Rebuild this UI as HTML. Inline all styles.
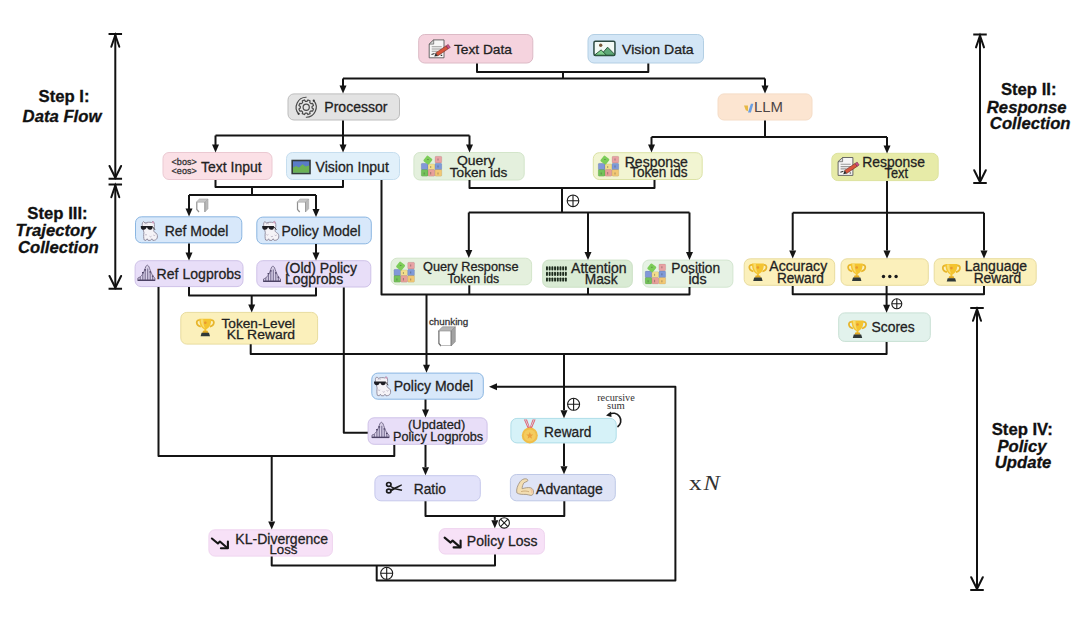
<!DOCTYPE html>
<html><head><meta charset="utf-8"><title>Training pipeline diagram</title>
<style>
html,body{margin:0;padding:0;background:#fff;}
body{width:1080px;height:618px;overflow:hidden;font-family:"Liberation Sans", sans-serif;}
svg{display:block;}
</style></head><body>
<svg width="1080" height="618" viewBox="0 0 1080 618">
<rect width="1080" height="618" fill="#ffffff"/>
<rect x="418.7" y="34.5" width="114.1" height="28.5" rx="6" fill="#f5d3de" stroke="#dcbac6" stroke-width="1"/>
<rect x="588.0" y="34.5" width="115.5" height="28.5" rx="6" fill="#d3e6f6" stroke="#b3cfe4" stroke-width="1"/>
<rect x="288.0" y="93.9" width="111.5" height="26.1" rx="6" fill="#e3e3e3" stroke="#bdbdbd" stroke-width="1"/>
<rect x="718.0" y="93.9" width="94.0" height="26.1" rx="6" fill="#fce5d1" stroke="#f5dcc6" stroke-width="1"/>
<rect x="163.0" y="152.5" width="109.0" height="27.0" rx="6" fill="#fbe0e6" stroke="#ebc9d2" stroke-width="1"/>
<rect x="286.5" y="152.5" width="113.0" height="27.0" rx="6" fill="#e1f0fa" stroke="#c6deef" stroke-width="1"/>
<rect x="413.9" y="152.5" width="110.3" height="27.5" rx="6" fill="#e4f0dd" stroke="#d3e5ca" stroke-width="1"/>
<rect x="593.3" y="152.7" width="108.9" height="26.8" rx="6" fill="#f2f5d2" stroke="#dbe2a6" stroke-width="1"/>
<rect x="831.8" y="153.3" width="106.4" height="27.3" rx="6" fill="#e7eba8" stroke="#dde39e" stroke-width="1"/>
<rect x="135.5" y="216.8" width="106.3" height="26.0" rx="6" fill="#d8e8fa" stroke="#8ab6e2" stroke-width="1"/>
<rect x="256.8" y="217.1" width="114.5" height="26.7" rx="6" fill="#d8e8fa" stroke="#8ab6e2" stroke-width="1"/>
<rect x="135.1" y="260.7" width="107.9" height="25.9" rx="6" fill="#e8def8" stroke="#cfc2e8" stroke-width="1"/>
<rect x="256.8" y="260.7" width="114.0" height="26.3" rx="6" fill="#e8def8" stroke="#cfc2e8" stroke-width="1"/>
<rect x="391.0" y="258.2" width="140.6" height="26.6" rx="6" fill="#e4f0dd" stroke="#d3e5ca" stroke-width="1"/>
<rect x="542.7" y="260.1" width="89.6" height="27.1" rx="6" fill="#d9ebd4" stroke="#cbe0c4" stroke-width="1"/>
<rect x="642.8" y="260.1" width="90.1" height="27.1" rx="6" fill="#e6f2e4" stroke="#d3e6d0" stroke-width="1"/>
<rect x="744.2" y="258.8" width="90.5" height="26.5" rx="6" fill="#fbf0bb" stroke="#e8dc9e" stroke-width="1"/>
<rect x="841.0" y="258.8" width="87.3" height="26.5" rx="6" fill="#fbf0bb" stroke="#e8dc9e" stroke-width="1"/>
<rect x="934.2" y="258.7" width="102.0" height="26.6" rx="6" fill="#fbf0bb" stroke="#e8dc9e" stroke-width="1"/>
<rect x="180.8" y="312.4" width="136.8" height="31.7" rx="6" fill="#fbf0bb" stroke="#e8dc9e" stroke-width="1"/>
<rect x="838.7" y="312.9" width="91.6" height="28.5" rx="6" fill="#e2f2ec" stroke="#c8e0d4" stroke-width="1"/>
<rect x="371.8" y="373.1" width="111.5" height="26.1" rx="6" fill="#d8e8fa" stroke="#8ab6e2" stroke-width="1"/>
<rect x="368.1" y="417.8" width="119.0" height="26.5" rx="6" fill="#e8def8" stroke="#cfc2e8" stroke-width="1"/>
<rect x="510.9" y="418.4" width="105.3" height="24.5" rx="6" fill="#d6f2f8" stroke="#aedde8" stroke-width="1"/>
<rect x="374.9" y="475.7" width="105.4" height="25.1" rx="6" fill="#e2e2fa" stroke="#c6c8ec" stroke-width="1"/>
<rect x="510.4" y="474.5" width="104.9" height="26.3" rx="6" fill="#dfe4f6" stroke="#bec8e6" stroke-width="1"/>
<rect x="208.9" y="529.8" width="123.5" height="26.3" rx="6" fill="#f7e1f7" stroke="#efd4ef" stroke-width="1"/>
<rect x="439.1" y="528.6" width="105.3" height="25.4" rx="6" fill="#f7e1f7" stroke="#efd4ef" stroke-width="1"/>
<path d="M477,63.5 V72 H648.3 V63.5" fill="none" stroke="#141414" stroke-width="2.0" stroke-linejoin="round" stroke-linecap="butt"/>
<path d="M563,72 V78.5" fill="none" stroke="#141414" stroke-width="2.0" stroke-linejoin="round" stroke-linecap="butt"/>
<path d="M343,78.5 H765" fill="none" stroke="#141414" stroke-width="2.0" stroke-linejoin="round" stroke-linecap="butt"/>
<path d="M343,78.5 V86" fill="none" stroke="#141414" stroke-width="2.0" stroke-linejoin="round" stroke-linecap="butt"/>
<path d="M339.5,85.5 L346.5,85.5 L343.0,93.5 Z" fill="#141414"/>
<path d="M765,78.5 V86" fill="none" stroke="#141414" stroke-width="2.0" stroke-linejoin="round" stroke-linecap="butt"/>
<path d="M761.5,85.5 L768.5,85.5 L765.0,93.5 Z" fill="#141414"/>
<path d="M343,120.5 V135.5" fill="none" stroke="#141414" stroke-width="2.0" stroke-linejoin="round" stroke-linecap="butt"/>
<path d="M215.5,135.5 H469.5" fill="none" stroke="#141414" stroke-width="2.0" stroke-linejoin="round" stroke-linecap="butt"/>
<path d="M215.5,135.5 V145" fill="none" stroke="#141414" stroke-width="2.0" stroke-linejoin="round" stroke-linecap="butt"/>
<path d="M212.0,144.5 L219.0,144.5 L215.5,152.5 Z" fill="#141414"/>
<path d="M343,135.5 V145" fill="none" stroke="#141414" stroke-width="2.0" stroke-linejoin="round" stroke-linecap="butt"/>
<path d="M339.5,144.5 L346.5,144.5 L343.0,152.5 Z" fill="#141414"/>
<path d="M469.5,135.5 V145" fill="none" stroke="#141414" stroke-width="2.0" stroke-linejoin="round" stroke-linecap="butt"/>
<path d="M466.0,144.5 L473.0,144.5 L469.5,152.5 Z" fill="#141414"/>
<path d="M765,120.5 V137" fill="none" stroke="#141414" stroke-width="2.0" stroke-linejoin="round" stroke-linecap="butt"/>
<path d="M651.5,137 H887" fill="none" stroke="#141414" stroke-width="2.0" stroke-linejoin="round" stroke-linecap="butt"/>
<path d="M651.5,137 V145" fill="none" stroke="#141414" stroke-width="2.0" stroke-linejoin="round" stroke-linecap="butt"/>
<path d="M648.0,144.5 L655.0,144.5 L651.5,152.5 Z" fill="#141414"/>
<path d="M887,137 V146" fill="none" stroke="#141414" stroke-width="2.0" stroke-linejoin="round" stroke-linecap="butt"/>
<path d="M883.5,145.5 L890.5,145.5 L887.0,153.5 Z" fill="#141414"/>
<path d="M215.5,180 V187 H343 V180" fill="none" stroke="#141414" stroke-width="2.0" stroke-linejoin="round" stroke-linecap="butt"/>
<path d="M252,187 V195" fill="none" stroke="#141414" stroke-width="2.0" stroke-linejoin="round" stroke-linecap="butt"/>
<path d="M189,195 H316" fill="none" stroke="#141414" stroke-width="2.0" stroke-linejoin="round" stroke-linecap="butt"/>
<path d="M189,195 V209" fill="none" stroke="#141414" stroke-width="2.0" stroke-linejoin="round" stroke-linecap="butt"/>
<path d="M185.5,208.5 L192.5,208.5 L189.0,216.5 Z" fill="#141414"/>
<path d="M316,195 V209" fill="none" stroke="#141414" stroke-width="2.0" stroke-linejoin="round" stroke-linecap="butt"/>
<path d="M312.5,209.0 L319.5,209.0 L316.0,217.0 Z" fill="#141414"/>
<path d="M189,243.5 V253" fill="none" stroke="#141414" stroke-width="2.0" stroke-linejoin="round" stroke-linecap="butt"/>
<path d="M185.5,252.5 L192.5,252.5 L189.0,260.5 Z" fill="#141414"/>
<path d="M316,244 V253" fill="none" stroke="#141414" stroke-width="2.0" stroke-linejoin="round" stroke-linecap="butt"/>
<path d="M312.5,252.5 L319.5,252.5 L316.0,260.5 Z" fill="#141414"/>
<path d="M189,287 V295.5 H316 V287.5" fill="none" stroke="#141414" stroke-width="2.0" stroke-linejoin="round" stroke-linecap="butt"/>
<path d="M251.7,295.5 V305" fill="none" stroke="#141414" stroke-width="2.0" stroke-linejoin="round" stroke-linecap="butt"/>
<path d="M248.2,304.5 L255.2,304.5 L251.7,312.5 Z" fill="#141414"/>
<path d="M158.5,287 V456 H394.3 V445" fill="none" stroke="#141414" stroke-width="2.0" stroke-linejoin="round" stroke-linecap="butt"/>
<path d="M271.7,456 V521" fill="none" stroke="#141414" stroke-width="2.0" stroke-linejoin="round" stroke-linecap="butt"/>
<path d="M268.2,521.5 L275.2,521.5 L271.7,529.5 Z" fill="#141414"/>
<path d="M343.8,287.5 V432.7 H367.7" fill="none" stroke="#141414" stroke-width="2.0" stroke-linejoin="round" stroke-linecap="butt"/>
<path d="M381.5,180 V294.6 H689.5 V287" fill="none" stroke="#141414" stroke-width="2.0" stroke-linejoin="round" stroke-linecap="butt"/>
<path d="M469.3,294.6 V285.3" fill="none" stroke="#141414" stroke-width="2.0" stroke-linejoin="round" stroke-linecap="butt"/>
<path d="M588,294.6 V287.7" fill="none" stroke="#141414" stroke-width="2.0" stroke-linejoin="round" stroke-linecap="butt"/>
<path d="M426.5,294.6 V365" fill="none" stroke="#141414" stroke-width="2.0" stroke-linejoin="round" stroke-linecap="butt"/>
<path d="M423.0,364.8 L430.0,364.8 L426.5,372.8 Z" fill="#141414"/>
<path d="M469.5,180 V188 H654.5 V180" fill="none" stroke="#141414" stroke-width="2.0" stroke-linejoin="round" stroke-linecap="butt"/>
<path d="M562,188 V212.5" fill="none" stroke="#141414" stroke-width="2.0" stroke-linejoin="round" stroke-linecap="butt"/>
<path d="M468.8,212.5 H689.5" fill="none" stroke="#141414" stroke-width="2.0" stroke-linejoin="round" stroke-linecap="butt"/>
<path d="M468.8,212.5 V250" fill="none" stroke="#141414" stroke-width="2.0" stroke-linejoin="round" stroke-linecap="butt"/>
<path d="M465.3,250.0 L472.3,250.0 L468.8,258.0 Z" fill="#141414"/>
<path d="M588,212.5 V252" fill="none" stroke="#141414" stroke-width="2.0" stroke-linejoin="round" stroke-linecap="butt"/>
<path d="M584.5,252.0 L591.5,252.0 L588.0,260.0 Z" fill="#141414"/>
<path d="M689.5,212.5 V252" fill="none" stroke="#141414" stroke-width="2.0" stroke-linejoin="round" stroke-linecap="butt"/>
<path d="M686.0,252.0 L693.0,252.0 L689.5,260.0 Z" fill="#141414"/>
<path d="M887,181 V212.7" fill="none" stroke="#141414" stroke-width="2.0" stroke-linejoin="round" stroke-linecap="butt"/>
<path d="M792.7,212.7 H984" fill="none" stroke="#141414" stroke-width="2.0" stroke-linejoin="round" stroke-linecap="butt"/>
<path d="M792.7,212.7 V250.5" fill="none" stroke="#141414" stroke-width="2.0" stroke-linejoin="round" stroke-linecap="butt"/>
<path d="M789.2,250.5 L796.2,250.5 L792.7,258.5 Z" fill="#141414"/>
<path d="M887,212.7 V250.5" fill="none" stroke="#141414" stroke-width="2.0" stroke-linejoin="round" stroke-linecap="butt"/>
<path d="M883.5,250.5 L890.5,250.5 L887.0,258.5 Z" fill="#141414"/>
<path d="M984,212.7 V250.5" fill="none" stroke="#141414" stroke-width="2.0" stroke-linejoin="round" stroke-linecap="butt"/>
<path d="M980.5,250.5 L987.5,250.5 L984.0,258.5 Z" fill="#141414"/>
<path d="M792.7,286 V294.3 H984 V286" fill="none" stroke="#141414" stroke-width="2.0" stroke-linejoin="round" stroke-linecap="butt"/>
<path d="M886.6,286 V305" fill="none" stroke="#141414" stroke-width="2.0" stroke-linejoin="round" stroke-linecap="butt"/>
<path d="M883.1,304.8 L890.1,304.8 L886.6,312.8 Z" fill="#141414"/>
<path d="M250.7,344.3 V354 H886.6 V342" fill="none" stroke="#141414" stroke-width="2.0" stroke-linejoin="round" stroke-linecap="butt"/>
<path d="M564,354 V410" fill="none" stroke="#141414" stroke-width="2.0" stroke-linejoin="round" stroke-linecap="butt"/>
<path d="M560.5,410.2 L567.5,410.2 L564.0,418.2 Z" fill="#141414"/>
<path d="M497,386.8 H675.4 V580.4 H376.7 V565.6" fill="none" stroke="#141414" stroke-width="2" stroke-linejoin="round"/>
<path d="M497.0,383.3 L497.0,390.3 L489.0,386.8 Z" fill="#141414"/>
<path d="M425.5,399.5 V410" fill="none" stroke="#141414" stroke-width="2.0" stroke-linejoin="round" stroke-linecap="butt"/>
<path d="M422.0,409.5 L429.0,409.5 L425.5,417.5 Z" fill="#141414"/>
<path d="M425.5,445 V467" fill="none" stroke="#141414" stroke-width="2.0" stroke-linejoin="round" stroke-linecap="butt"/>
<path d="M422.0,467.2 L429.0,467.2 L425.5,475.2 Z" fill="#141414"/>
<path d="M564,443.5 V466" fill="none" stroke="#141414" stroke-width="2.0" stroke-linejoin="round" stroke-linecap="butt"/>
<path d="M560.5,466.2 L567.5,466.2 L564.0,474.2 Z" fill="#141414"/>
<path d="M425.5,501.3 V516 H564.3 V501.3" fill="none" stroke="#141414" stroke-width="2.0" stroke-linejoin="round" stroke-linecap="butt"/>
<path d="M494.8,516 V520.5" fill="none" stroke="#141414" stroke-width="2.0" stroke-linejoin="round" stroke-linecap="butt"/>
<path d="M491.3,520.3 L498.3,520.3 L494.8,528.3 Z" fill="#141414"/>
<path d="M271.7,556.6 V565.6 H495 V554.5" fill="none" stroke="#141414" stroke-width="2.0" stroke-linejoin="round" stroke-linecap="butt"/>
<g transform="translate(428.7,39.4)"><path d="M0.5,4.7 L5,0.5 H15.3 V18.4 H0.5 Z" fill="#f6f6f6" stroke="#5a5a5a" stroke-width="0.9" stroke-linejoin="round"/><path d="M0.5,4.7 H5 V0.5 Z" fill="#d8d8d8" stroke="#5a5a5a" stroke-width="0.7"/><path d="M3,7.3 H13 M3,9.6 H13 M3,11.9 H9" stroke="#9a9a9a" stroke-width="1.1"/><path d="M2.8,15.2 L5.8,14.2 M12,16 H13.5" stroke="#333" stroke-width="1.1"/><path d="M9.0,16.5 L19.5,9.4 L17.5,6.4 L7.0,13.5 Z" fill="#d8553c" stroke="#6a2a20" stroke-width="0.6"/><path d="M7.0,13.5 L9.0,16.5 L5.6,17.2 Z" fill="#2a2a2a"/><path d="M19.5,9.4 L21.6,8 L19.5,5 L17.5,6.4 Z" fill="#cc4f86" stroke="#6a2a40" stroke-width="0.5"/></g>
<g transform="translate(593.2,40.6)"><rect x="0.75" y="0.75" width="21" height="14.1" rx="1.5" fill="#f2f9f5" stroke="#2d4a42" stroke-width="1.5"/><path d="M7.5,14.6 L14.4,6.6 L21.3,13.6 V14.6 Z" fill="#5ea877" stroke="#1f4a30" stroke-width="0.9" stroke-linejoin="round"/><path d="M1.2,14.6 L7.9,9.3 L13,14.3 L12.8,14.6 Z" fill="#80d08e" stroke="#1f4a30" stroke-width="0.9" stroke-linejoin="round"/><circle cx="7.5" cy="4.7" r="1.7" fill="#7a5a3a"/></g>
<path d="M312.05,108.03 L313.48,109.05 L312.62,111.12 L310.89,110.83 L309.78,111.94 L310.07,113.67 L308.00,114.53 L306.98,113.10 L305.42,113.10 L304.40,114.53 L302.33,113.67 L302.62,111.94 L301.51,110.83 L299.78,111.12 L298.92,109.05 L300.35,108.03 L300.35,106.47 L298.92,105.45 L299.78,103.38 L301.51,103.67 L302.62,102.56 L302.33,100.83 L304.40,99.97 L305.42,101.40 L306.98,101.40 L308.00,99.97 L310.07,100.83 L309.78,102.56 L310.89,103.67 L312.62,103.38 L313.48,105.45 L312.05,106.47 Z" fill="none" stroke="#4a4a4a" stroke-width="1.2" stroke-linejoin="round"/>
<circle cx="306.2" cy="107.25" r="3.1" fill="none" stroke="#4a4a4a" stroke-width="1.2"/>
<path d="M306.55,97.26 A10,10 0 0 0 298.65,113.81" fill="none" stroke="#4a4a4a" stroke-width="1.2"/>
<path d="M313.75,100.69 A10,10 0 0 1 305.85,117.24" fill="none" stroke="#4a4a4a" stroke-width="1.2"/>
<circle cx="298.65" cy="113.81" r="1.1" fill="#333"/><circle cx="313.75" cy="100.69" r="1.1" fill="#333"/>
<path d="M744,105.5 L747.9,105.6 L748.1,111.2 L745.8,110.2 Z" fill="#e6b844"/><path d="M748,112.5 L750.9,103.8 L753.4,103.8 L750.9,112.5 Z" fill="#6c9fe2"/>
<rect x="291.4" y="159.7" width="19.4" height="14.6" fill="#333b3b"/><rect x="293" y="161.3" width="16.2" height="11.4" fill="#5a7cc8"/><path d="M293,172.7 V167.5 L296,166 L299,167.5 L302.5,164.3 L305.5,166.5 L309.2,165.5 V172.7 Z" fill="#6cb254"/>
<g transform="translate(421.2,156) scale(1.0)"><rect x="0" y="7.3" width="6.8" height="6.6" rx="1" fill="#8298d8" stroke="#00000022" stroke-width="0.6"/><rect x="0" y="13.6" width="6.8" height="6.6" rx="1" fill="#74c25a" stroke="#00000022" stroke-width="0.6"/><rect x="6.8" y="7.9" width="6.8" height="5.9" rx="1" fill="#f2de8c" stroke="#00000022" stroke-width="0.6"/><rect x="6.8" y="13.6" width="6.8" height="6.6" rx="1" fill="#e8a09a" stroke="#00000022" stroke-width="0.6"/><rect x="13.8" y="0.3" width="6.8" height="6.6" rx="1" fill="#e8a2a4" stroke="#00000022" stroke-width="0.6"/><rect x="13.8" y="7.3" width="6.8" height="6.6" rx="1" fill="#7e9ad8" stroke="#00000022" stroke-width="0.6"/><rect x="13.8" y="13.6" width="6.8" height="6.6" rx="1" fill="#f2c874" stroke="#00000022" stroke-width="0.6"/><rect x="3.2" y="0.6" width="7" height="7" rx="1.2" fill="#7ccd58" transform="rotate(38 6.7 4.1)"/><path d="M3,16.5 v2 M9.5,16 v2.5 M16.8,16.5 v2 M16.8,9.5 v2 M16.8,2.5 v2 M9.5,10 v2 M6,3.5 h1.5" stroke="#3a3a3a" stroke-width="0.9" opacity="0.45"/></g>
<g transform="translate(598.2,156) scale(1.0)"><rect x="0" y="7.3" width="6.8" height="6.6" rx="1" fill="#8298d8" stroke="#00000022" stroke-width="0.6"/><rect x="0" y="13.6" width="6.8" height="6.6" rx="1" fill="#74c25a" stroke="#00000022" stroke-width="0.6"/><rect x="6.8" y="7.9" width="6.8" height="5.9" rx="1" fill="#f2de8c" stroke="#00000022" stroke-width="0.6"/><rect x="6.8" y="13.6" width="6.8" height="6.6" rx="1" fill="#e8a09a" stroke="#00000022" stroke-width="0.6"/><rect x="13.8" y="0.3" width="6.8" height="6.6" rx="1" fill="#e8a2a4" stroke="#00000022" stroke-width="0.6"/><rect x="13.8" y="7.3" width="6.8" height="6.6" rx="1" fill="#7e9ad8" stroke="#00000022" stroke-width="0.6"/><rect x="13.8" y="13.6" width="6.8" height="6.6" rx="1" fill="#f2c874" stroke="#00000022" stroke-width="0.6"/><rect x="3.2" y="0.6" width="7" height="7" rx="1.2" fill="#7ccd58" transform="rotate(38 6.7 4.1)"/><path d="M3,16.5 v2 M9.5,16 v2.5 M16.8,16.5 v2 M16.8,9.5 v2 M16.8,2.5 v2 M9.5,10 v2 M6,3.5 h1.5" stroke="#3a3a3a" stroke-width="0.9" opacity="0.45"/></g>
<g transform="translate(837.6,157)"><path d="M0.5,4.7 L5,0.5 H15.3 V18.4 H0.5 Z" fill="#f6f6f6" stroke="#5a5a5a" stroke-width="0.9" stroke-linejoin="round"/><path d="M0.5,4.7 H5 V0.5 Z" fill="#d8d8d8" stroke="#5a5a5a" stroke-width="0.7"/><path d="M3,7.3 H13 M3,9.6 H13 M3,11.9 H9" stroke="#9a9a9a" stroke-width="1.1"/><path d="M2.8,15.2 L5.8,14.2 M12,16 H13.5" stroke="#333" stroke-width="1.1"/><path d="M9.0,16.5 L19.5,9.4 L17.5,6.4 L7.0,13.5 Z" fill="#d8553c" stroke="#6a2a20" stroke-width="0.6"/><path d="M7.0,13.5 L9.0,16.5 L5.6,17.2 Z" fill="#2a2a2a"/><path d="M19.5,9.4 L21.6,8 L19.5,5 L17.5,6.4 Z" fill="#cc4f86" stroke="#6a2a40" stroke-width="0.5"/></g>
<g transform="translate(0.00,0.00)"><path d="M143.2,229.5 C142.5,227 141.8,224.5 142.5,222.8 L143.5,221.5 L145,223 C147,222.2 149.5,222 151.5,222.5 L153,221.3 L154.2,223 C154.6,225 154.5,227.5 153.8,229.8 C153.5,231 154,232 155,232.5 C156.8,233.2 157.6,235 157.4,237 C157.2,238.8 156,240 154.5,240.2 L152.8,240.4 L151.8,238.8 L150.5,240.4 L148,240.3 L147.2,238.8 L146,240.4 L144.2,240 C143.5,238 143.6,235 143.9,232.5 Z" fill="#f5f3f7" stroke="#8a8496" stroke-width="0.9" stroke-linejoin="round"/><path d="M145,234.5 q1,1.2 2,0 M149.5,236.2 q1,1.2 2,0 M153.3,235 q1,1.2 2,0 M144.5,224 q1.5,-1 3,0" fill="none" stroke="#aaa2b6" stroke-width="0.7"/><circle cx="153.1" cy="222.4" r="1.1" fill="#d496bc" opacity="0.85"/><path d="M140.8,226 H152.6 V227.2 C152.4,229 151.5,229.8 149.8,229.8 C148.3,229.8 147.4,228.8 147.2,227.6 L146.4,227.6 C146.2,228.8 145.3,229.8 143.8,229.8 C142,229.8 141,229 140.8,227.2 Z" fill="#1e1e24"/><path d="M152.4,226.6 L155,229.8" stroke="#333" stroke-width="0.9"/></g>
<g transform="translate(121.40,0.00)"><path d="M143.2,229.5 C142.5,227 141.8,224.5 142.5,222.8 L143.5,221.5 L145,223 C147,222.2 149.5,222 151.5,222.5 L153,221.3 L154.2,223 C154.6,225 154.5,227.5 153.8,229.8 C153.5,231 154,232 155,232.5 C156.8,233.2 157.6,235 157.4,237 C157.2,238.8 156,240 154.5,240.2 L152.8,240.4 L151.8,238.8 L150.5,240.4 L148,240.3 L147.2,238.8 L146,240.4 L144.2,240 C143.5,238 143.6,235 143.9,232.5 Z" fill="#f5f3f7" stroke="#8a8496" stroke-width="0.9" stroke-linejoin="round"/><path d="M145,234.5 q1,1.2 2,0 M149.5,236.2 q1,1.2 2,0 M153.3,235 q1,1.2 2,0 M144.5,224 q1.5,-1 3,0" fill="none" stroke="#aaa2b6" stroke-width="0.7"/><circle cx="153.1" cy="222.4" r="1.1" fill="#d496bc" opacity="0.85"/><path d="M140.8,226 H152.6 V227.2 C152.4,229 151.5,229.8 149.8,229.8 C148.3,229.8 147.4,228.8 147.2,227.6 L146.4,227.6 C146.2,228.8 145.3,229.8 143.8,229.8 C142,229.8 141,229 140.8,227.2 Z" fill="#1e1e24"/><path d="M152.4,226.6 L155,229.8" stroke="#333" stroke-width="0.9"/></g>
<g transform="translate(137.6,265)"><path d="M0.3,13 C4,12 6,8 7.5,3.5 C8.3,1 9,0.2 9.7,0.2 C10.4,0.2 11.2,1 12,3.5 C13.5,8 15.5,12 17.3,13 V15.3 H0.3 Z" fill="#d9d0e8" stroke="#6e6484" stroke-width="0.9"/><path d="M2.6,15.3 V11.8 M5.2,15.3 V7.6 M7.6,15.3 V4.2 M10.1,15.3 V3.6 M12.6,15.3 V6.8 M15.1,15.3 V11.2" stroke="#7a7094" stroke-width="1.1"/><path d="M4.4,7.6 h1.6 M11.8,6.8 h1.6 M14.3,11.2 h1.6 M6.8,4.8 h1.6" stroke="#4c4264" stroke-width="1.2"/><path d="M0,15.3 H17.6" stroke="#4c4264" stroke-width="1.4"/></g>
<g transform="translate(263.2,266)"><path d="M0.3,13 C4,12 6,8 7.5,3.5 C8.3,1 9,0.2 9.7,0.2 C10.4,0.2 11.2,1 12,3.5 C13.5,8 15.5,12 17.3,13 V15.3 H0.3 Z" fill="#d9d0e8" stroke="#6e6484" stroke-width="0.9"/><path d="M2.6,15.3 V11.8 M5.2,15.3 V7.6 M7.6,15.3 V4.2 M10.1,15.3 V3.6 M12.6,15.3 V6.8 M15.1,15.3 V11.2" stroke="#7a7094" stroke-width="1.1"/><path d="M4.4,7.6 h1.6 M11.8,6.8 h1.6 M14.3,11.2 h1.6 M6.8,4.8 h1.6" stroke="#4c4264" stroke-width="1.2"/><path d="M0,15.3 H17.6" stroke="#4c4264" stroke-width="1.4"/></g>
<g transform="translate(393.9,262) scale(1.0)"><rect x="0" y="7.3" width="6.8" height="6.6" rx="1" fill="#8298d8" stroke="#00000022" stroke-width="0.6"/><rect x="0" y="13.6" width="6.8" height="6.6" rx="1" fill="#74c25a" stroke="#00000022" stroke-width="0.6"/><rect x="6.8" y="7.9" width="6.8" height="5.9" rx="1" fill="#f2de8c" stroke="#00000022" stroke-width="0.6"/><rect x="6.8" y="13.6" width="6.8" height="6.6" rx="1" fill="#e8a09a" stroke="#00000022" stroke-width="0.6"/><rect x="13.8" y="0.3" width="6.8" height="6.6" rx="1" fill="#e8a2a4" stroke="#00000022" stroke-width="0.6"/><rect x="13.8" y="7.3" width="6.8" height="6.6" rx="1" fill="#7e9ad8" stroke="#00000022" stroke-width="0.6"/><rect x="13.8" y="13.6" width="6.8" height="6.6" rx="1" fill="#f2c874" stroke="#00000022" stroke-width="0.6"/><rect x="3.2" y="0.6" width="7" height="7" rx="1.2" fill="#7ccd58" transform="rotate(38 6.7 4.1)"/><path d="M3,16.5 v2 M9.5,16 v2.5 M16.8,16.5 v2 M16.8,9.5 v2 M16.8,2.5 v2 M9.5,10 v2 M6,3.5 h1.5" stroke="#3a3a3a" stroke-width="0.9" opacity="0.45"/></g>
<g transform="translate(546,266.2)"><rect x="0.0" y="0.0" width="1.9" height="4.2" rx="0.9" fill="#1c2a1c"/><rect x="2.7" y="0.0" width="1.9" height="4.2" rx="0.9" fill="#1c2a1c"/><rect x="5.4" y="0.0" width="1.9" height="4.2" rx="0.9" fill="#1c2a1c"/><rect x="8.1" y="0.0" width="1.9" height="4.2" rx="0.9" fill="#1c2a1c"/><rect x="10.8" y="0.0" width="1.9" height="4.2" rx="0.9" fill="#1c2a1c"/><rect x="13.5" y="0.0" width="1.9" height="4.2" rx="0.9" fill="#1c2a1c"/><rect x="16.2" y="0.0" width="1.9" height="4.2" rx="0.9" fill="#1c2a1c"/><rect x="18.9" y="0.0" width="1.9" height="4.2" rx="0.9" fill="#1c2a1c"/><rect x="0.0" y="5.6" width="1.9" height="4.2" rx="0.9" fill="#1c2a1c"/><rect x="2.7" y="5.6" width="1.9" height="4.2" rx="0.9" fill="#1c2a1c"/><rect x="5.4" y="5.6" width="1.9" height="4.2" rx="0.9" fill="#1c2a1c"/><rect x="8.1" y="5.6" width="1.9" height="4.2" rx="0.9" fill="#1c2a1c"/><rect x="10.8" y="5.6" width="1.9" height="4.2" rx="0.9" fill="#1c2a1c"/><rect x="13.5" y="5.6" width="1.9" height="4.2" rx="0.9" fill="#1c2a1c"/><rect x="16.2" y="5.6" width="1.9" height="4.2" rx="0.9" fill="#1c2a1c"/><rect x="18.9" y="5.6" width="1.9" height="4.2" rx="0.9" fill="#1c2a1c"/><rect x="0.0" y="11.2" width="1.9" height="4.2" rx="0.9" fill="#1c2a1c"/><rect x="2.7" y="11.2" width="1.9" height="4.2" rx="0.9" fill="#1c2a1c"/><rect x="5.4" y="11.2" width="1.9" height="4.2" rx="0.9" fill="#1c2a1c"/><rect x="8.1" y="11.2" width="1.9" height="4.2" rx="0.9" fill="#1c2a1c"/><rect x="10.8" y="11.2" width="1.9" height="4.2" rx="0.9" fill="#1c2a1c"/><rect x="13.5" y="11.2" width="1.9" height="4.2" rx="0.9" fill="#1c2a1c"/><rect x="16.2" y="11.2" width="1.9" height="4.2" rx="0.9" fill="#1c2a1c"/><rect x="18.9" y="11.2" width="1.9" height="4.2" rx="0.9" fill="#1c2a1c"/></g>
<g transform="translate(645.1,263.8) scale(1.0)"><rect x="0" y="7.3" width="6.8" height="6.6" rx="1" fill="#8298d8" stroke="#00000022" stroke-width="0.6"/><rect x="0" y="13.6" width="6.8" height="6.6" rx="1" fill="#74c25a" stroke="#00000022" stroke-width="0.6"/><rect x="6.8" y="7.9" width="6.8" height="5.9" rx="1" fill="#f2de8c" stroke="#00000022" stroke-width="0.6"/><rect x="6.8" y="13.6" width="6.8" height="6.6" rx="1" fill="#e8a09a" stroke="#00000022" stroke-width="0.6"/><rect x="13.8" y="0.3" width="6.8" height="6.6" rx="1" fill="#e8a2a4" stroke="#00000022" stroke-width="0.6"/><rect x="13.8" y="7.3" width="6.8" height="6.6" rx="1" fill="#7e9ad8" stroke="#00000022" stroke-width="0.6"/><rect x="13.8" y="13.6" width="6.8" height="6.6" rx="1" fill="#f2c874" stroke="#00000022" stroke-width="0.6"/><rect x="3.2" y="0.6" width="7" height="7" rx="1.2" fill="#7ccd58" transform="rotate(38 6.7 4.1)"/><path d="M3,16.5 v2 M9.5,16 v2.5 M16.8,16.5 v2 M16.8,9.5 v2 M16.8,2.5 v2 M9.5,10 v2 M6,3.5 h1.5" stroke="#3a3a3a" stroke-width="0.9" opacity="0.45"/></g>
<g transform="translate(748.4,263) scale(1.0)"><path d="M4,2 C0,1 -0.5,7 5,8.5" fill="none" stroke="#e7b52c" stroke-width="1.8"/><path d="M15,2 C19,1 19.5,7 14,8.5" fill="none" stroke="#e7b52c" stroke-width="1.8"/><path d="M3.5,0.5 H15.5 C15.5,7 13,10 10.5,11 V13 H8.5 V11 C6,10 3.5,7 3.5,0.5 Z" fill="#f4c430"/><path d="M5,1 C5,6 7,9 9.5,10.5 C8,8 7.5,5 7.5,1 Z" fill="#f8dc70"/><circle cx="9.5" cy="4.5" r="1.3" fill="#e89830"/><path d="M7.2,12.6 H11.8 L12.4,14.8 H6.6 Z" fill="#e0a820"/><path d="M5.8,14.6 H13.2 L14.2,18 H4.8 Z" fill="#2f3838"/></g>
<g transform="translate(847.2,263) scale(1.0)"><path d="M4,2 C0,1 -0.5,7 5,8.5" fill="none" stroke="#e7b52c" stroke-width="1.8"/><path d="M15,2 C19,1 19.5,7 14,8.5" fill="none" stroke="#e7b52c" stroke-width="1.8"/><path d="M3.5,0.5 H15.5 C15.5,7 13,10 10.5,11 V13 H8.5 V11 C6,10 3.5,7 3.5,0.5 Z" fill="#f4c430"/><path d="M5,1 C5,6 7,9 9.5,10.5 C8,8 7.5,5 7.5,1 Z" fill="#f8dc70"/><circle cx="9.5" cy="4.5" r="1.3" fill="#e89830"/><path d="M7.2,12.6 H11.8 L12.4,14.8 H6.6 Z" fill="#e0a820"/><path d="M5.8,14.6 H13.2 L14.2,18 H4.8 Z" fill="#2f3838"/></g>
<g transform="translate(941.9,263.6) scale(1.0)"><path d="M4,2 C0,1 -0.5,7 5,8.5" fill="none" stroke="#e7b52c" stroke-width="1.8"/><path d="M15,2 C19,1 19.5,7 14,8.5" fill="none" stroke="#e7b52c" stroke-width="1.8"/><path d="M3.5,0.5 H15.5 C15.5,7 13,10 10.5,11 V13 H8.5 V11 C6,10 3.5,7 3.5,0.5 Z" fill="#f4c430"/><path d="M5,1 C5,6 7,9 9.5,10.5 C8,8 7.5,5 7.5,1 Z" fill="#f8dc70"/><circle cx="9.5" cy="4.5" r="1.3" fill="#e89830"/><path d="M7.2,12.6 H11.8 L12.4,14.8 H6.6 Z" fill="#e0a820"/><path d="M5.8,14.6 H13.2 L14.2,18 H4.8 Z" fill="#2f3838"/></g>
<g transform="translate(195.8,318.2) scale(1.0)"><path d="M4,2 C0,1 -0.5,7 5,8.5" fill="none" stroke="#e7b52c" stroke-width="1.8"/><path d="M15,2 C19,1 19.5,7 14,8.5" fill="none" stroke="#e7b52c" stroke-width="1.8"/><path d="M3.5,0.5 H15.5 C15.5,7 13,10 10.5,11 V13 H8.5 V11 C6,10 3.5,7 3.5,0.5 Z" fill="#f4c430"/><path d="M5,1 C5,6 7,9 9.5,10.5 C8,8 7.5,5 7.5,1 Z" fill="#f8dc70"/><circle cx="9.5" cy="4.5" r="1.3" fill="#e89830"/><path d="M7.2,12.6 H11.8 L12.4,14.8 H6.6 Z" fill="#e0a820"/><path d="M5.8,14.6 H13.2 L14.2,18 H4.8 Z" fill="#2f3838"/></g>
<g transform="translate(848,320) scale(1.0)"><path d="M4,2 C0,1 -0.5,7 5,8.5" fill="none" stroke="#e7b52c" stroke-width="1.8"/><path d="M15,2 C19,1 19.5,7 14,8.5" fill="none" stroke="#e7b52c" stroke-width="1.8"/><path d="M3.5,0.5 H15.5 C15.5,7 13,10 10.5,11 V13 H8.5 V11 C6,10 3.5,7 3.5,0.5 Z" fill="#f4c430"/><path d="M5,1 C5,6 7,9 9.5,10.5 C8,8 7.5,5 7.5,1 Z" fill="#f8dc70"/><circle cx="9.5" cy="4.5" r="1.3" fill="#e89830"/><path d="M7.2,12.6 H11.8 L12.4,14.8 H6.6 Z" fill="#e0a820"/><path d="M5.8,14.6 H13.2 L14.2,18 H4.8 Z" fill="#2f3838"/></g>
<g transform="translate(233.20,155.40)"><path d="M143.2,229.5 C142.5,227 141.8,224.5 142.5,222.8 L143.5,221.5 L145,223 C147,222.2 149.5,222 151.5,222.5 L153,221.3 L154.2,223 C154.6,225 154.5,227.5 153.8,229.8 C153.5,231 154,232 155,232.5 C156.8,233.2 157.6,235 157.4,237 C157.2,238.8 156,240 154.5,240.2 L152.8,240.4 L151.8,238.8 L150.5,240.4 L148,240.3 L147.2,238.8 L146,240.4 L144.2,240 C143.5,238 143.6,235 143.9,232.5 Z" fill="#f5f3f7" stroke="#8a8496" stroke-width="0.9" stroke-linejoin="round"/><path d="M145,234.5 q1,1.2 2,0 M149.5,236.2 q1,1.2 2,0 M153.3,235 q1,1.2 2,0 M144.5,224 q1.5,-1 3,0" fill="none" stroke="#aaa2b6" stroke-width="0.7"/><circle cx="153.1" cy="222.4" r="1.1" fill="#d496bc" opacity="0.85"/><path d="M140.8,226 H152.6 V227.2 C152.4,229 151.5,229.8 149.8,229.8 C148.3,229.8 147.4,228.8 147.2,227.6 L146.4,227.6 C146.2,228.8 145.3,229.8 143.8,229.8 C142,229.8 141,229 140.8,227.2 Z" fill="#1e1e24"/><path d="M152.4,226.6 L155,229.8" stroke="#333" stroke-width="0.9"/></g>
<g transform="translate(371.7,422.1)"><path d="M0.3,13 C4,12 6,8 7.5,3.5 C8.3,1 9,0.2 9.7,0.2 C10.4,0.2 11.2,1 12,3.5 C13.5,8 15.5,12 17.3,13 V15.3 H0.3 Z" fill="#d9d0e8" stroke="#6e6484" stroke-width="0.9"/><path d="M2.6,15.3 V11.8 M5.2,15.3 V7.6 M7.6,15.3 V4.2 M10.1,15.3 V3.6 M12.6,15.3 V6.8 M15.1,15.3 V11.2" stroke="#7a7094" stroke-width="1.1"/><path d="M4.4,7.6 h1.6 M11.8,6.8 h1.6 M14.3,11.2 h1.6 M6.8,4.8 h1.6" stroke="#4c4264" stroke-width="1.2"/><path d="M0,15.3 H17.6" stroke="#4c4264" stroke-width="1.4"/></g>
<g transform="translate(521.4,419.6)"><path d="M2.5,0 L6.2,8.5 L8.6,8.5 L5.6,0 Z" fill="#e0606e"/><path d="M14.2,0 L10.6,8.5 L8.2,8.5 L11.2,0 Z" fill="#e0606e"/><path d="M4,0 L7,7 M12.7,0 L9.7,7" stroke="#d8d8e6" stroke-width="0.9"/><circle cx="8.4" cy="15.8" r="8" fill="#f0bd48"/><circle cx="8.4" cy="15.8" r="6" fill="#f4cc5e"/><path d="M8.4,12.3 L9.4,14.8 L11.9,15 L9.9,16.6 L10.6,19.1 L8.4,17.7 L6.2,19.1 L6.9,16.6 L4.9,15 L7.4,14.8 Z" fill="#eba03c"/></g>
<g transform="translate(382,478)"><ellipse cx="6.8" cy="6.4" rx="2.2" ry="1.9" fill="none" stroke="#1a1a1a" stroke-width="1.7"/><ellipse cx="6.8" cy="13" rx="2.2" ry="1.9" fill="none" stroke="#1a1a1a" stroke-width="1.7"/><path d="M8.4,11.3 L19.6,6.2 L19.9,7.6 L9.6,13.2 Z" fill="#1a1a1a"/><path d="M8.6,7.6 C10.5,9 12,9.6 13.5,10.2 L20.2,11.6 L19.8,12.9 L13,11.4 C11,10.8 9.6,10 8,8.6 Z" fill="#1a1a1a"/></g>
<g transform="translate(515.6,478.2)"><path d="M1.2,14.6 C0.5,11 2,7 4.5,3.5 C6,1.5 8,0.5 10,0.6 C12,0.7 12.8,2 11.8,3 C11,3.8 9.5,3.6 8.5,4.5 C7.2,6 6.6,8.5 6.5,10.5 C9,9.8 12.5,9 15,9.6 C17,10.2 18,12 17.9,14.2 C17.8,16 16.8,17.2 15.3,17.2 C13.5,17 12,16.3 10.5,16.2 C7.5,16.2 3.5,16.5 1.2,14.6 Z" fill="#f3deb2" stroke="#9a8c78" stroke-width="0.8"/><path d="M5.5,13.4 C8,12.6 11,12.6 13.5,13.6" stroke="#c9a875" stroke-width="0.9" fill="none"/><path d="M14.8,10.5 C16.2,11.5 16.6,13 16.2,15" stroke="#f2c4a0" stroke-width="1.3" fill="none"/></g>
<g transform="translate(211.4,537.5)" fill="none" stroke="#151515" stroke-width="2.1" stroke-linejoin="round" stroke-linecap="round"><path d="M0.5,1 L6.5,6 L8.5,4 L16,10.5"/><path d="M9.5,10.8 H16.5 V4"/></g>
<g transform="translate(444.1,536.6)" fill="none" stroke="#151515" stroke-width="2.1" stroke-linejoin="round" stroke-linecap="round"><path d="M0.5,1 L6.5,6 L8.5,4 L16,10.5"/><path d="M9.5,10.8 H16.5 V4"/></g>
<g opacity="1.0"><path d="M438.3,331.0 L442.5,326.8 L455.3,326.8 L451.1,331.0 Z" fill="#b4b4b4" stroke="#8a8a8a" stroke-width="0.6"/><path d="M451.1,331.0 L455.3,326.8 L455.3,341.8 L451.1,346.0 Z" fill="#a2a2a2" stroke="#8a8a8a" stroke-width="0.6"/><path d="M438.90000000000003,331.0 V343.5 L441.1,346.0" fill="none" stroke="#6a6a6a" stroke-width="1.2"/><path d="M440.8,345.5 H451.1" stroke="#bdbdbd" stroke-width="1"/><path d="M451.1,331.0 V346.0" stroke="#707070" stroke-width="0.8"/></g>
<g opacity="0.75"><path d="M196.2,202.2 L199.39999999999998,199 L208.0,199 L204.8,202.2 Z" fill="#b4b4b4" stroke="#8a8a8a" stroke-width="0.6"/><path d="M204.8,202.2 L208.0,199 L208.0,208.8 L204.8,212 Z" fill="#a2a2a2" stroke="#8a8a8a" stroke-width="0.6"/><path d="M196.79999999999998,202.2 V209.5 L199.0,212" fill="none" stroke="#6a6a6a" stroke-width="1.2"/><path d="M204.8,202.2 V212" stroke="#707070" stroke-width="0.8"/></g>
<g opacity="0.75"><path d="M296.9,202.2 L300.09999999999997,199 L308.7,199 L305.5,202.2 Z" fill="#b4b4b4" stroke="#8a8a8a" stroke-width="0.6"/><path d="M305.5,202.2 L308.7,199 L308.7,208.8 L305.5,212 Z" fill="#a2a2a2" stroke="#8a8a8a" stroke-width="0.6"/><path d="M297.5,202.2 V209.5 L299.7,212" fill="none" stroke="#6a6a6a" stroke-width="1.2"/><path d="M305.5,202.2 V212" stroke="#707070" stroke-width="0.8"/></g>
<circle cx="573" cy="200.8" r="5.8" fill="none" stroke="#1a1a1a" stroke-width="1.1"/>
<path d="M567.2,200.8 H578.8 M573,195.0 V206.60000000000002" stroke="#1a1a1a" stroke-width="1.1"/>
<circle cx="896.8" cy="303.8" r="5" fill="none" stroke="#1a1a1a" stroke-width="1.1"/>
<path d="M891.8,303.8 H901.8 M896.8,298.8 V308.8" stroke="#1a1a1a" stroke-width="1.1"/>
<circle cx="573.6" cy="404.3" r="6" fill="none" stroke="#1a1a1a" stroke-width="1.1"/>
<path d="M567.6,404.3 H579.6 M573.6,398.3 V410.3" stroke="#1a1a1a" stroke-width="1.1"/>
<circle cx="386.7" cy="573.3" r="6" fill="none" stroke="#1a1a1a" stroke-width="1.1"/>
<path d="M380.7,573.3 H392.7 M386.7,567.3 V579.3" stroke="#1a1a1a" stroke-width="1.1"/>
<circle cx="504.2" cy="522.9" r="5.2" fill="none" stroke="#1a1a1a" stroke-width="1.1"/>
<path d="M500.5236,519.2236 L507.8764,526.5763999999999 M507.8764,519.2236 L500.5236,526.5763999999999" stroke="#1a1a1a" stroke-width="1.1"/>
<path d="M609,414.5 A7,7 0 1 1 617.5,427" fill="none" stroke="#1a1a1a" stroke-width="1.6"/>
<path d="M606,415.5 L611,411.5 L611.5,417 Z" fill="#1a1a1a"/>
<text x="453.9" y="53.9" font-size="13.6" fill="#222" stroke="#222" stroke-width="0.28" font-weight="normal" font-style="normal" font-family='"Liberation Sans", sans-serif' textLength="58.1" lengthAdjust="spacingAndGlyphs">Text Data</text>
<text x="622" y="53.9" font-size="13.6" fill="#222" stroke="#222" stroke-width="0.28" font-weight="normal" font-style="normal" font-family='"Liberation Sans", sans-serif' textLength="71.7" lengthAdjust="spacingAndGlyphs">Vision Data</text>
<text x="324.3" y="112.1" font-size="14" fill="#222" stroke="#222" stroke-width="0.28" font-weight="normal" font-style="normal" font-family='"Liberation Sans", sans-serif' textLength="63.2" lengthAdjust="spacingAndGlyphs">Processor</text>
<text x="753.9" y="112" font-size="15.2" text-anchor="start" fill="#4d4646" font-weight="normal" font-style="normal" font-family='"Liberation Sans", sans-serif' textLength="29" lengthAdjust="spacingAndGlyphs">LLM</text>
<text x="171.6" y="164.5" font-size="9" fill="#333" stroke="#333" stroke-width="0.28" font-weight="normal" font-style="normal" font-family='"Liberation Sans", sans-serif' textLength="25.1" lengthAdjust="spacingAndGlyphs">&lt;bos&gt;</text>
<text x="171.6" y="173.8" font-size="9" fill="#333" stroke="#333" stroke-width="0.28" font-weight="normal" font-style="normal" font-family='"Liberation Sans", sans-serif' textLength="25.1" lengthAdjust="spacingAndGlyphs">&lt;eos&gt;</text>
<text x="201" y="172.2" font-size="14" fill="#222" stroke="#222" stroke-width="0.28" font-weight="normal" font-style="normal" font-family='"Liberation Sans", sans-serif' textLength="60.7" lengthAdjust="spacingAndGlyphs">Text Input</text>
<text x="315.6" y="172.2" font-size="14" fill="#222" stroke="#222" stroke-width="0.28" font-weight="normal" font-style="normal" font-family='"Liberation Sans", sans-serif' textLength="73.2" lengthAdjust="spacingAndGlyphs">Vision Input</text>
<text x="457" y="164.9" font-size="13.5" fill="#222" stroke="#222" stroke-width="0.28" font-weight="normal" font-style="normal" font-family='"Liberation Sans", sans-serif' textLength="38.0" lengthAdjust="spacingAndGlyphs">Query</text>
<text x="449.8" y="176.5" font-size="13.5" fill="#222" stroke="#222" stroke-width="0.28" font-weight="normal" font-style="normal" font-family='"Liberation Sans", sans-serif' textLength="57.5" lengthAdjust="spacingAndGlyphs">Token ids</text>
<text x="624.7" y="166.7" font-size="14" fill="#222" stroke="#222" stroke-width="0.28" font-weight="normal" font-style="normal" font-family='"Liberation Sans", sans-serif' textLength="63.2" lengthAdjust="spacingAndGlyphs">Response</text>
<text x="630.1" y="177.3" font-size="14" fill="#222" stroke="#222" stroke-width="0.28" font-weight="normal" font-style="normal" font-family='"Liberation Sans", sans-serif' textLength="57.4" lengthAdjust="spacingAndGlyphs">Token ids</text>
<text x="862.3" y="166.7" font-size="14" fill="#222" stroke="#222" stroke-width="0.28" font-weight="normal" font-style="normal" font-family='"Liberation Sans", sans-serif' textLength="62.6" lengthAdjust="spacingAndGlyphs">Response</text>
<text x="884.6" y="178.1" font-size="14" fill="#222" stroke="#222" stroke-width="0.28" font-weight="normal" font-style="normal" font-family='"Liberation Sans", sans-serif' textLength="23.4" lengthAdjust="spacingAndGlyphs">Text</text>
<text x="164.7" y="235.5" font-size="14" fill="#222" stroke="#222" stroke-width="0.28" font-weight="normal" font-style="normal" font-family='"Liberation Sans", sans-serif' textLength="63.8" lengthAdjust="spacingAndGlyphs">Ref Model</text>
<text x="281.5" y="235.5" font-size="14" fill="#222" stroke="#222" stroke-width="0.28" font-weight="normal" font-style="normal" font-family='"Liberation Sans", sans-serif' textLength="79.2" lengthAdjust="spacingAndGlyphs">Policy Model</text>
<text x="156.6" y="278.7" font-size="14" fill="#222" stroke="#222" stroke-width="0.28" font-weight="normal" font-style="normal" font-family='"Liberation Sans", sans-serif' textLength="84.5" lengthAdjust="spacingAndGlyphs">Ref Logprobs</text>
<text x="284.9" y="273.4" font-size="14" fill="#222" stroke="#222" stroke-width="0.28" font-weight="normal" font-style="normal" font-family='"Liberation Sans", sans-serif' textLength="72.2" lengthAdjust="spacingAndGlyphs">(Old) Policy</text>
<text x="284.9" y="283.5" font-size="14" fill="#222" stroke="#222" stroke-width="0.28" font-weight="normal" font-style="normal" font-family='"Liberation Sans", sans-serif' textLength="58.4" lengthAdjust="spacingAndGlyphs">Logprobs</text>
<text x="423" y="271.4" font-size="12.2" fill="#222" stroke="#222" stroke-width="0.28" font-weight="normal" font-style="normal" font-family='"Liberation Sans", sans-serif' textLength="95.5" lengthAdjust="spacingAndGlyphs">Query Response</text>
<text x="447.4" y="282.6" font-size="12.2" fill="#222" stroke="#222" stroke-width="0.28" font-weight="normal" font-style="normal" font-family='"Liberation Sans", sans-serif' textLength="51.7" lengthAdjust="spacingAndGlyphs">Token ids</text>
<text x="571.1" y="273.3" font-size="14" fill="#222" stroke="#222" stroke-width="0.28" font-weight="normal" font-style="normal" font-family='"Liberation Sans", sans-serif' textLength="55.4" lengthAdjust="spacingAndGlyphs">Attention</text>
<text x="584.7" y="284.3" font-size="14" fill="#222" stroke="#222" stroke-width="0.28" font-weight="normal" font-style="normal" font-family='"Liberation Sans", sans-serif' textLength="32.9" lengthAdjust="spacingAndGlyphs">Mask</text>
<text x="671.3" y="273.3" font-size="14" fill="#222" stroke="#222" stroke-width="0.28" font-weight="normal" font-style="normal" font-family='"Liberation Sans", sans-serif' textLength="48.8" lengthAdjust="spacingAndGlyphs">Position</text>
<text x="688.4" y="284.3" font-size="14" fill="#222" stroke="#222" stroke-width="0.28" font-weight="normal" font-style="normal" font-family='"Liberation Sans", sans-serif' textLength="18.4" lengthAdjust="spacingAndGlyphs">ids</text>
<text x="769.3" y="271.4" font-size="14" fill="#222" stroke="#222" stroke-width="0.28" font-weight="normal" font-style="normal" font-family='"Liberation Sans", sans-serif' textLength="57.9" lengthAdjust="spacingAndGlyphs">Accuracy</text>
<text x="776.9" y="282.8" font-size="14" fill="#222" stroke="#222" stroke-width="0.28" font-weight="normal" font-style="normal" font-family='"Liberation Sans", sans-serif' textLength="46.9" lengthAdjust="spacingAndGlyphs">Reward</text>
<text x="964.8" y="270.5" font-size="14" fill="#222" stroke="#222" stroke-width="0.28" font-weight="normal" font-style="normal" font-family='"Liberation Sans", sans-serif' textLength="62.2" lengthAdjust="spacingAndGlyphs">Language</text>
<text x="973.7" y="283.1" font-size="14" fill="#222" stroke="#222" stroke-width="0.28" font-weight="normal" font-style="normal" font-family='"Liberation Sans", sans-serif' textLength="47.4" lengthAdjust="spacingAndGlyphs">Reward</text>
<text x="221.5" y="327.5" font-size="13.6" fill="#222" stroke="#222" stroke-width="0.28" font-weight="normal" font-style="normal" font-family='"Liberation Sans", sans-serif' textLength="73.6" lengthAdjust="spacingAndGlyphs">Token-Level</text>
<text x="226.7" y="339.4" font-size="13.6" fill="#222" stroke="#222" stroke-width="0.28" font-weight="normal" font-style="normal" font-family='"Liberation Sans", sans-serif' textLength="68.4" lengthAdjust="spacingAndGlyphs">KL Reward</text>
<text x="871.5" y="331.7" font-size="14" fill="#222" stroke="#222" stroke-width="0.28" font-weight="normal" font-style="normal" font-family='"Liberation Sans", sans-serif' textLength="43.3" lengthAdjust="spacingAndGlyphs">Scores</text>
<text x="393.7" y="391.4" font-size="14" fill="#222" stroke="#222" stroke-width="0.28" font-weight="normal" font-style="normal" font-family='"Liberation Sans", sans-serif' textLength="79.4" lengthAdjust="spacingAndGlyphs">Policy Model</text>
<text x="408.1" y="429" font-size="12.8" fill="#222" stroke="#222" stroke-width="0.28" font-weight="normal" font-style="normal" font-family='"Liberation Sans", sans-serif' textLength="57.1" lengthAdjust="spacingAndGlyphs">(Updated)</text>
<text x="393" y="440.7" font-size="12.8" fill="#222" stroke="#222" stroke-width="0.28" font-weight="normal" font-style="normal" font-family='"Liberation Sans", sans-serif' textLength="90.1" lengthAdjust="spacingAndGlyphs">Policy Logprobs</text>
<text x="544.1" y="436.7" font-size="14" fill="#222" stroke="#222" stroke-width="0.28" font-weight="normal" font-style="normal" font-family='"Liberation Sans", sans-serif' textLength="47.3" lengthAdjust="spacingAndGlyphs">Reward</text>
<text x="413.7" y="494.2" font-size="14" fill="#222" stroke="#222" stroke-width="0.28" font-weight="normal" font-style="normal" font-family='"Liberation Sans", sans-serif' textLength="32.2" lengthAdjust="spacingAndGlyphs">Ratio</text>
<text x="536.1" y="493.6" font-size="14" fill="#222" stroke="#222" stroke-width="0.28" font-weight="normal" font-style="normal" font-family='"Liberation Sans", sans-serif' textLength="66.8" lengthAdjust="spacingAndGlyphs">Advantage</text>
<text x="235.3" y="543.7" font-size="14" fill="#222" stroke="#222" stroke-width="0.28" font-weight="normal" font-style="normal" font-family='"Liberation Sans", sans-serif' textLength="92.8" lengthAdjust="spacingAndGlyphs">KL-Divergence</text>
<text x="269.4" y="554" font-size="13.4" fill="#222" stroke="#222" stroke-width="0.28" font-weight="normal" font-style="normal" font-family='"Liberation Sans", sans-serif' textLength="28.1" lengthAdjust="spacingAndGlyphs">Loss</text>
<text x="466.8" y="546.3" font-size="14" fill="#222" stroke="#222" stroke-width="0.28" font-weight="normal" font-style="normal" font-family='"Liberation Sans", sans-serif' textLength="70.8" lengthAdjust="spacingAndGlyphs">Policy Loss</text>
<circle cx="883.5" cy="276.5" r="1.7" fill="#1a1a1a"/>
<circle cx="889.8" cy="276.5" r="1.7" fill="#1a1a1a"/>
<circle cx="896.1" cy="276.5" r="1.7" fill="#1a1a1a"/>
<text x="428.9" y="324.6" font-size="9.8" fill="#333" stroke="#333" stroke-width="0.28" font-weight="normal" font-style="normal" font-family='"Liberation Sans", sans-serif' textLength="39.4" lengthAdjust="spacingAndGlyphs">chunking</text>
<text x="597.2" y="401.4" font-size="10.5" text-anchor="start" fill="#333" font-weight="normal" font-style="normal" font-family='"Liberation Serif", serif' textLength="37.6" lengthAdjust="spacingAndGlyphs">recursive</text>
<text x="607" y="409.4" font-size="10.5" text-anchor="start" fill="#333" font-weight="normal" font-style="normal" font-family='"Liberation Serif", serif' textLength="17.7" lengthAdjust="spacingAndGlyphs">sum</text>
<text x="689.1" y="490" font-size="22" text-anchor="start" fill="#333" font-weight="normal" font-style="normal" font-family='"Liberation Serif", serif' textLength="12.7" lengthAdjust="spacingAndGlyphs">x</text>
<text x="703.5" y="490" font-size="21.5" text-anchor="start" fill="#333" font-weight="normal" font-style="italic" font-family='"Liberation Serif", serif' textLength="16.3" lengthAdjust="spacingAndGlyphs">N</text>
<text x="64" y="102.4" font-size="16.7" text-anchor="middle" fill="#111" font-weight="bold" font-style="normal" font-family='"Liberation Sans", sans-serif' stroke="#111" stroke-width="0.3">Step I:</text>
<text x="62" y="121.8" font-size="16.7" text-anchor="middle" fill="#111" font-weight="bold" font-style="italic" font-family='"Liberation Sans", sans-serif' stroke="#111" stroke-width="0.3">Data Flow</text>
<text x="57.5" y="218.8" font-size="16.7" text-anchor="middle" fill="#111" font-weight="bold" font-style="normal" font-family='"Liberation Sans", sans-serif' stroke="#111" stroke-width="0.3">Step III:</text>
<text x="55.8" y="235.5" font-size="16.7" text-anchor="middle" fill="#111" font-weight="bold" font-style="italic" font-family='"Liberation Sans", sans-serif' stroke="#111" stroke-width="0.3">Trajectory</text>
<text x="58.3" y="252.5" font-size="16.7" text-anchor="middle" fill="#111" font-weight="bold" font-style="italic" font-family='"Liberation Sans", sans-serif' stroke="#111" stroke-width="0.3">Collection</text>
<text x="1028.7" y="95" font-size="16.7" text-anchor="middle" fill="#111" font-weight="bold" font-style="normal" font-family='"Liberation Sans", sans-serif' stroke="#111" stroke-width="0.3">Step II:</text>
<text x="1026.7" y="112.7" font-size="16.7" text-anchor="middle" fill="#111" font-weight="bold" font-style="italic" font-family='"Liberation Sans", sans-serif' stroke="#111" stroke-width="0.3">Response</text>
<text x="1030.2" y="129.3" font-size="16.7" text-anchor="middle" fill="#111" font-weight="bold" font-style="italic" font-family='"Liberation Sans", sans-serif' stroke="#111" stroke-width="0.3">Collection</text>
<text x="1022.3" y="435.2" font-size="16.7" text-anchor="middle" fill="#111" font-weight="bold" font-style="normal" font-family='"Liberation Sans", sans-serif' stroke="#111" stroke-width="0.3">Step IV:</text>
<text x="1022" y="451.7" font-size="16.7" text-anchor="middle" fill="#111" font-weight="bold" font-style="italic" font-family='"Liberation Sans", sans-serif' stroke="#111" stroke-width="0.3">Policy</text>
<text x="1023" y="468.4" font-size="16.7" text-anchor="middle" fill="#111" font-weight="bold" font-style="italic" font-family='"Liberation Sans", sans-serif' stroke="#111" stroke-width="0.3">Update</text>
<path d="M108.55,34 H122.05 M108.55,178.8 H122.05 M115.3,34 V178.8" stroke="#111" stroke-width="2"/>
<path d="M111.3,46.8 L115.3,35 L119.3,46.8 M109.5,166.0 L115.3,177.8 L121.1,166.0" fill="none" stroke="#111" stroke-width="2" stroke-linejoin="miter" stroke-linecap="round"/>
<path d="M108.55,184.4 H122.05 M108.55,288.8 H122.05 M115.3,184.4 V288.8" stroke="#111" stroke-width="2"/>
<path d="M111.3,197.20000000000002 L115.3,185.4 L119.3,197.20000000000002 M109.5,276.0 L115.3,287.8 L121.1,276.0" fill="none" stroke="#111" stroke-width="2" stroke-linejoin="miter" stroke-linecap="round"/>
<path d="M973.25,34.6 H986.75 M973.25,183 H986.75 M980,34.6 V183" stroke="#111" stroke-width="2"/>
<path d="M976,47.400000000000006 L980,35.6 L984,47.400000000000006 M974.2,170.2 L980,182 L985.8,170.2" fill="none" stroke="#111" stroke-width="2" stroke-linejoin="miter" stroke-linecap="round"/>
<path d="M970.25,308 H983.75 M970.25,590 H983.75 M977,308 V590" stroke="#111" stroke-width="2"/>
<path d="M973,320.8 L977,309 L981,320.8 M971.2,577.2 L977,589 L982.8,577.2" fill="none" stroke="#111" stroke-width="2" stroke-linejoin="miter" stroke-linecap="round"/>
</svg>
</body></html>
